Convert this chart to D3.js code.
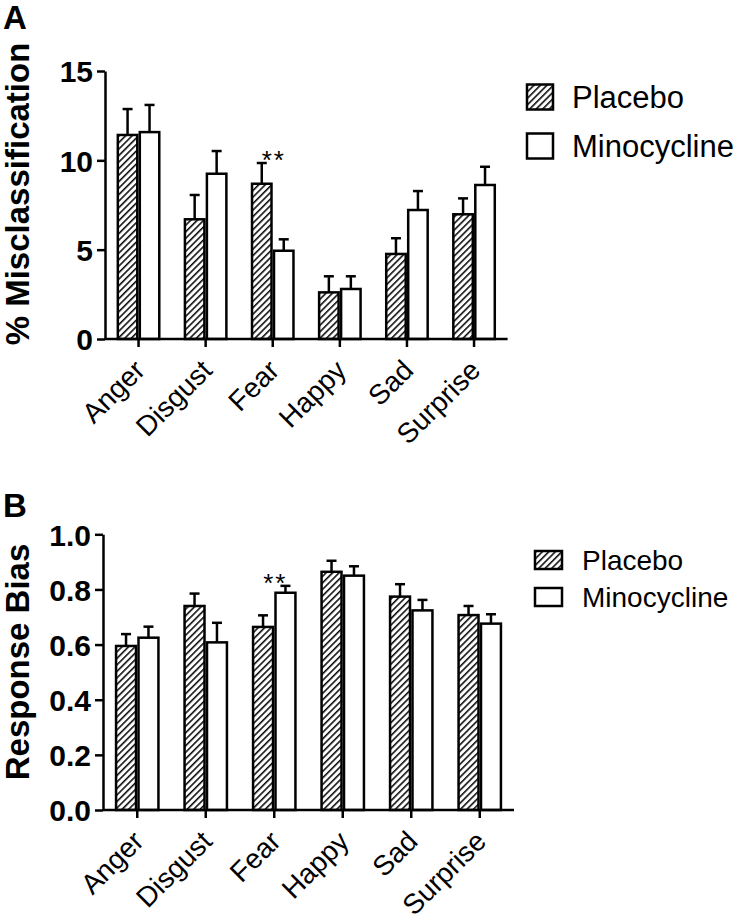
<!DOCTYPE html>
<html>
<head>
<meta charset="utf-8">
<script src="https://cdn.jsdelivr.net/npm/d3@7"></script>
<style>
  html, body { margin: 0; padding: 0; background: #fff; }
  svg { display: block; }
  text { font-family: "Liberation Sans", Arial, Helvetica, sans-serif; fill: #000; }
</style>
</head>
<body>
<svg id="chart" width="745" height="920"></svg>
<script>
// ---- Data ----
const categories = ["Anger", "Disgust", "Fear", "Happy", "Sad", "Surprise"];
const seriesNames = ["Placebo", "Minocycline"];

const misPlacebo    = [11.42, 6.70, 8.69, 2.61, 4.76, 6.98];
const misPlaceboErr = [1.45, 1.36, 1.16, 0.90, 0.88, 0.89];
const misMino       = [11.58, 9.25, 4.94, 2.80, 7.22, 8.62];
const misMinoErr    = [1.52, 1.27, 0.64, 0.71, 1.06, 1.02];

const biasPlacebo    = [0.595, 0.740, 0.664, 0.864, 0.774, 0.707];
const biasPlaceboErr = [0.043, 0.045, 0.042, 0.040, 0.045, 0.033];
const biasMino       = [0.625, 0.608, 0.788, 0.850, 0.724, 0.676];
const biasMinoErr    = [0.040, 0.071, 0.025, 0.034, 0.038, 0.034];

const misTicks  = [0, 5, 10, 15];
const biasTicks = [0, 0.2, 0.4, 0.6, 0.8, 1.0];

const sigCategoryA = "Fear";
const sigCategoryB = "Fear";
const sigLabel = "**";

// ---- Drawing ----
const svg = d3.select("#chart");
const defs = svg.append("defs");
const pat = defs.append("pattern")
  .attr("id", "hatch")
  .attr("patternUnits", "userSpaceOnUse")
  .attr("width", 4.6).attr("height", 4.6)
  .attr("patternTransform", "rotate(45)");
pat.append("rect").attr("width", 4.6).attr("height", 4.6).attr("fill", "#fff");
pat.append("line").attr("x1", 0.8).attr("y1", 0).attr("x2", 0.8).attr("y2", 4.6)
  .attr("stroke", "#000").attr("stroke-width", 1.5);

function panel(cfg) {
  const g = svg.append("g");
  const x = d3.scaleBand().domain(categories)
    .range([cfg.x0, cfg.x1]).paddingInner(0.345).paddingOuter(0.1725);
  const xs = d3.scaleBand().domain(seriesNames).range([0, x.bandwidth()]);
  const y = d3.scaleLinear().domain(cfg.domain).range([cfg.yBottom, cfg.yTop]);

  const rows = [];
  categories.forEach((c, i) => {
    rows.push({ c, s: "Placebo", v: cfg.placebo[i], e: cfg.placeboErr[i] });
    rows.push({ c, s: "Minocycline", v: cfg.mino[i], e: cfg.minoErr[i] });
  });

  // error bars (upper only)
  const eb = g.append("g").attr("stroke", "#000").attr("stroke-width", 2.5).attr("fill", "none");
  rows.forEach(r => {
    const cx = x(r.c) + xs(r.s) + xs.bandwidth() / 2;
    eb.append("line").attr("x1", cx).attr("x2", cx).attr("y1", y(r.v)).attr("y2", y(r.v + r.e));
    eb.append("line").attr("x1", cx - 5).attr("x2", cx + 5).attr("y1", y(r.v + r.e)).attr("y2", y(r.v + r.e));
  });

  // bars
  g.append("g").selectAll("rect").data(rows).join("rect")
    .attr("x", d => x(d.c) + xs(d.s) + 1.25)
    .attr("width", xs.bandwidth() - 2.5)
    .attr("y", d => y(d.v))
    .attr("height", d => y(0) - y(d.v))
    .attr("fill", d => d.s === "Placebo" ? "url(#hatch)" : "#fff")
    .attr("stroke", "#000").attr("stroke-width", 2.5);

  // y axis
  const ya = g.append("g").attr("transform", `translate(${cfg.x0},0)`)
    .call(d3.axisLeft(y).tickValues(cfg.ticks).tickFormat(cfg.fmt).tickSize(8).tickSizeOuter(0).tickPadding(4));
  ya.select(".domain").attr("stroke-width", 2.5);
  ya.selectAll(".tick line").attr("stroke-width", 2.5);
  ya.selectAll(".tick text").attr("font-size", 30).attr("font-weight", "bold")
    .attr("font-family", "'Liberation Sans', Arial, sans-serif").attr("dy", "0.36em");

  // x axis
  const xa = g.append("g").attr("transform", `translate(0,${cfg.yBottom})`)
    .call(d3.axisBottom(x).tickSize(8).tickSizeOuter(0));
  xa.selectAll(".tick").attr("transform", d => `translate(${x(d) + x.bandwidth() / 2},0)`);
  xa.select(".domain").attr("stroke-width", 2.5).attr("d", `M${cfg.x0},0H${cfg.x1}`);
  xa.selectAll(".tick line").attr("stroke-width", 2.5);
  xa.selectAll(".tick text")
    .attr("font-size", 28).attr("font-family", "'Liberation Sans', Arial, sans-serif")
    .attr("text-anchor", "end").attr("x", 0).attr("y", 0).attr("dy", 0)
    .attr("transform", "translate(8,33) rotate(-45)");

  // significance
  g.append("text")
    .attr("x", x(cfg.sig) + x.bandwidth() / 2 + 1)
    .attr("y", cfg.sigY)
    .attr("text-anchor", "middle")
    .attr("font-size", 26).attr("letter-spacing", 2)
    .text(sigLabel);

  // y title
  g.append("text")
    .attr("transform", `translate(29,${cfg.titleY}) rotate(-90)`)
    .attr("text-anchor", "middle").attr("font-size", 33).attr("font-weight", "bold")
    .text(cfg.title);

  // panel letter
  g.append("text").attr("x", 3).attr("y", cfg.letterY)
    .attr("font-size", 33).attr("font-weight", "bold").text(cfg.letter);

  // legend
  const lg = g.append("g");
  seriesNames.forEach((s, i) => {
    const ly = cfg.legY + i * cfg.legGap;
    lg.append("rect").attr("x", cfg.legX).attr("y", ly - cfg.swH / 2)
      .attr("width", cfg.swW).attr("height", cfg.swH)
      .attr("fill", s === "Placebo" ? "url(#hatch)" : "#fff")
      .attr("stroke", "#000").attr("stroke-width", 2.5);
    lg.append("text").attr("x", cfg.legX + cfg.swW + cfg.legTextGap).attr("y", ly)
      .attr("dy", "0.36em").attr("font-size", cfg.legFont).text(s);
  });
}

panel({
  x0: 105, x1: 507.6, yTop: 71, yBottom: 339, domain: [0, 15],
  ticks: misTicks, fmt: d3.format("d"),
  placebo: misPlacebo, placeboErr: misPlaceboErr, mino: misMino, minoErr: misMinoErr,
  sig: sigCategoryA, sigY: 169,
  title: "% Misclassification", titleY: 194,
  letter: "A", letterY: 29,
  legX: 527, legY: 97, legGap: 49, swW: 26, swH: 25, legTextGap: 19, legFont: 31
});

panel({
  x0: 103, x1: 514, yTop: 534.3, yBottom: 810, domain: [0, 1],
  ticks: biasTicks, fmt: d3.format(".1f"),
  placebo: biasPlacebo, placeboErr: biasPlaceboErr, mino: biasMino, minoErr: biasMinoErr,
  sig: sigCategoryB, sigY: 592,
  title: "Response Bias", titleY: 662,
  letter: "B", letterY: 517,
  legX: 535, legY: 560, legGap: 37, swW: 27, swH: 18, legTextGap: 20, legFont: 28
});
</script>
</body>
</html>
